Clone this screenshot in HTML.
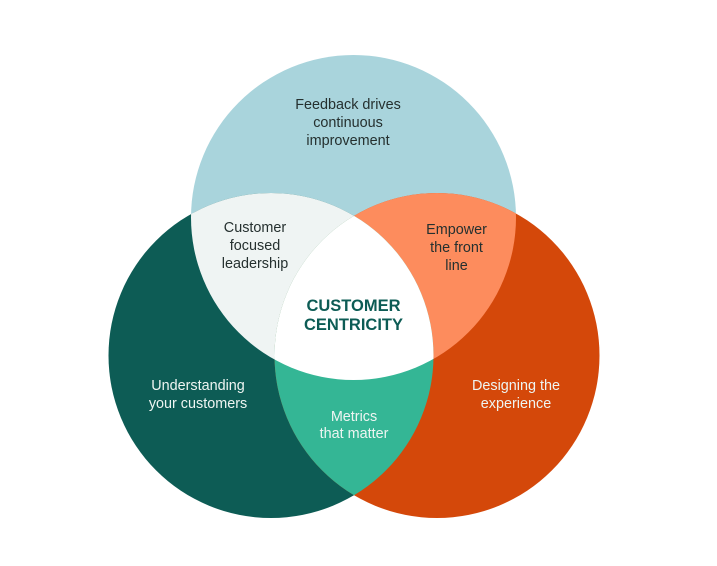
<!DOCTYPE html>
<html>
<head>
<meta charset="utf-8">
<style>
html,body{margin:0;padding:0;background:#fff;width:717px;height:566px;overflow:hidden}
svg{display:block}
text{font-family:"Liberation Sans",sans-serif;font-size:14.4px;text-anchor:middle}
.d{fill:#25302f}
.w{fill:#eef5f2}
.b{font-weight:bold;font-size:16.5px;fill:#0d5c55}
</style>
</head>
<body>
<svg width="717" height="566" viewBox="0 0 717 566" xmlns="http://www.w3.org/2000/svg">
<defs>
<clipPath id="cT"><circle cx="353.5" cy="217.5" r="162.5"/></clipPath>
<clipPath id="cL"><circle cx="271" cy="355.5" r="162.5"/></clipPath>
<clipPath id="cR"><circle cx="437" cy="355.5" r="162.5"/></clipPath>
</defs>
<circle cx="353.5" cy="217.5" r="162.5" fill="#a9d4dc"/>
<circle cx="271" cy="355.5" r="162.5" fill="#0d5c55"/>
<circle cx="437" cy="355.5" r="162.5" fill="#d4480a"/>
<g clip-path="url(#cT)"><circle cx="271" cy="355.5" r="162.5" fill="#eff4f3"/></g>
<g clip-path="url(#cT)"><circle cx="437" cy="355.5" r="162.5" fill="#fd8c5d"/></g>
<g clip-path="url(#cL)"><circle cx="437" cy="355.5" r="162.5" fill="#34b695"/></g>
<g clip-path="url(#cT)"><g clip-path="url(#cL)"><circle cx="437" cy="355.5" r="162.5" fill="#ffffff"/></g></g>

<text class="d" x="348" y="109">Feedback drives</text>
<text class="d" x="348" y="127">continuous</text>
<text class="d" x="348" y="145">improvement</text>

<text class="d" x="255" y="232">Customer</text>
<text class="d" x="255" y="250">focused</text>
<text class="d" x="255" y="268">leadership</text>

<text class="d" x="456.500" y="234">Empower</text>
<text class="d" x="456.500" y="252">the front</text>
<text class="d" x="456.500" y="270">line</text>

<text class="b" x="353.500" y="311">CUSTOMER</text>
<text class="b" x="353.500" y="330">CENTRICITY</text>

<text class="w" x="198" y="390">Understanding</text>
<text class="w" x="198" y="408">your customers</text>

<text class="w" x="354" y="421">Metrics</text>
<text class="w" x="354" y="438">that matter</text>

<text class="w" x="516" y="390">Designing the</text>
<text class="w" x="516" y="408">experience</text>
</svg>
</body>
</html>
